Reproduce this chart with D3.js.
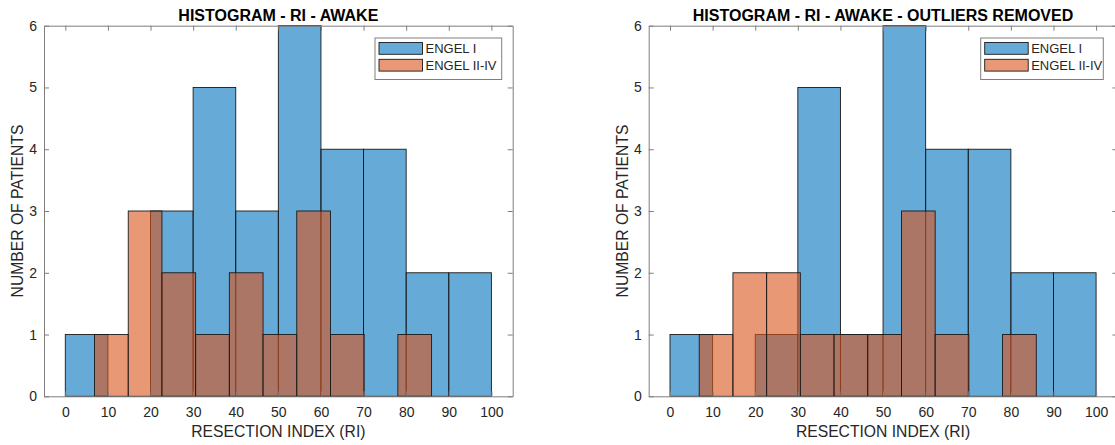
<!DOCTYPE html>
<html>
<head>
<meta charset="utf-8">
<script src="https://cdn.jsdelivr.net/npm/d3@7"></script>
<style>
  html, body { margin: 0; padding: 0; background: #fff; }
  svg { display: block; font-family: "Liberation Sans", Arial, Helvetica, sans-serif; }
</style>
</head>
<body>
<svg id="chart" width="1115" height="445"></svg>
<script>
// Histogram bin edges (resection index, %)
const engel1Edges = [0, 10, 20, 30, 40, 50, 60, 70, 80, 90, 100];
const engel24Edges = [6.86, 14.77, 22.68, 30.59, 38.50, 46.41, 54.32, 62.23, 70.14, 78.05, 85.96];

// Patient counts per bin — all awake recordings
const engel1All = [1, 0, 3, 5, 3, 6, 4, 4, 2, 2];
const engel24All = [1, 3, 2, 1, 2, 1, 3, 1, 0, 1];

// Patient counts per bin — outliers removed
const engel1Clean = [1, 0, 1, 5, 1, 6, 4, 4, 2, 2];
const engel24Clean = [1, 2, 2, 1, 1, 1, 3, 1, 0, 1];

const xTicks = [0, 10, 20, 30, 40, 50, 60, 70, 80, 90, 100];
const yTicks = [0, 1, 2, 3, 4, 5, 6];
const seriesNames = ["ENGEL I", "ENGEL II-IV"];
const titles = ["HISTOGRAM - RI - AWAKE", "HISTOGRAM - RI - AWAKE - OUTLIERS REMOVED"];
const xLabel = "RESECTION INDEX (RI)";
const yLabel = "NUMBER OF PATIENTS";

const BLUE = "#0072BD", ORANGE = "#D95319";
const TEXT = "#262626", AXIS = "#7f7f7f";

const svg = d3.select("#chart");

function toBins(edges, counts) {
  return counts.map((c, i) => ({ x0: edges[i], x1: edges[i + 1], n: c }));
}

function panel(opt) {
  const { left, right, top, bottom } = opt;
  const x = d3.scaleLinear().domain([-5, 105]).range([left, right]);
  const y = d3.scaleLinear().domain([0, 6]).range([bottom, top]);
  const g = svg.append("g");

  // bars: Engel I underneath, Engel II-IV on top, both translucent
  const layers = [
    { bins: toBins(engel1Edges, opt.blue), color: BLUE },
    { bins: toBins(engel24Edges, opt.orange), color: ORANGE }
  ];
  layers.forEach(L => {
    g.append("g").selectAll("rect")
      .data(L.bins.filter(b => b.n > 0))
      .join("rect")
      .attr("x", d => x(d.x0))
      .attr("width", d => x(d.x1) - x(d.x0))
      .attr("y", d => y(d.n))
      .attr("height", d => y(0) - y(d.n))
      .attr("fill", L.color)
      .attr("fill-opacity", 0.6)
      .attr("stroke", "#1a1a1a")
      .attr("stroke-width", 0.9);
  });

  // axes box with inward ticks on all four sides
  const tickLen = 5;
  const axB = d3.axisBottom(x).tickValues(xTicks).tickSizeInner(-tickLen).tickSizeOuter(0).tickPadding(11);
  const axT = d3.axisTop(x).tickValues(xTicks).tickSizeInner(-tickLen).tickSizeOuter(0).tickFormat("");
  const axL = d3.axisLeft(y).tickValues(yTicks).tickFormat(d3.format("d"))
    .tickSizeInner(-tickLen).tickSizeOuter(0).tickPadding(7);
  const axR = d3.axisRight(y).tickValues(yTicks).tickSizeInner(-tickLen).tickSizeOuter(0).tickFormat("");

  const styleAxis = sel => {
    sel.select(".domain").attr("stroke", AXIS).attr("stroke-width", 1);
    sel.selectAll(".tick line").attr("stroke", AXIS).attr("stroke-width", 1);
    sel.selectAll(".tick text").attr("fill", TEXT).attr("font-size", 14)
      .attr("font-family", "Liberation Sans, Arial, sans-serif");
  };
  g.append("g").attr("transform", `translate(0,${bottom})`).call(axB).call(styleAxis);
  g.append("g").attr("transform", `translate(0,${top})`).call(axT).call(styleAxis);
  g.append("g").attr("transform", `translate(${left},0)`).call(axL).call(styleAxis);
  g.append("g").attr("transform", `translate(${right},0)`).call(axR).call(styleAxis);

  // title and axis labels
  g.append("text")
    .attr("x", (left + right) / 2).attr("y", 20.5)
    .attr("text-anchor", "middle").attr("font-weight", "bold")
    .attr("font-size", 16).attr("fill", "#000")
    .text(opt.title);
  g.append("text")
    .attr("x", (left + right) / 2).attr("y", 437.3)
    .attr("text-anchor", "middle").attr("font-size", 15.7).attr("fill", TEXT)
    .text(xLabel);
  g.append("text")
    .attr("transform", `translate(${left - 21},${(top + bottom) / 2}) rotate(-90)`)
    .attr("text-anchor", "middle").attr("font-size", 15.7).attr("fill", TEXT)
    .text(yLabel);

  // legend
  const lg = g.append("g").attr("transform", `translate(${opt.legendX},38)`);
  lg.append("rect").attr("width", opt.legendW).attr("height", 41.5)
    .attr("fill", "#fff").attr("stroke", AXIS).attr("stroke-width", 1);
  [BLUE, ORANGE].forEach((c, i) => {
    lg.append("rect")
      .attr("x", 4).attr("y", 4.5 + i * 16.8).attr("width", 43.5).attr("height", 11.8)
      .attr("fill", c).attr("fill-opacity", 0.6)
      .attr("stroke", "#1a1a1a").attr("stroke-width", 0.9);
    lg.append("text")
      .attr("x", 50.5).attr("y", 15.3 + i * 16.8)
      .attr("font-size", 13).attr("fill", TEXT)
      .text(seriesNames[i]);
  });
}

panel({ left: 44, right: 512.7, top: 25.7, bottom: 396.3,
  blue: engel1All, orange: engel24All, title: titles[0],
  legendX: 375, legendW: 126.7 });
panel({ left: 648.7, right: 1117.4, top: 25.7, bottom: 396.3,
  blue: engel1Clean, orange: engel24Clean, title: titles[1],
  legendX: 980.7, legendW: 122.6 });
</script>
</body>
</html>
